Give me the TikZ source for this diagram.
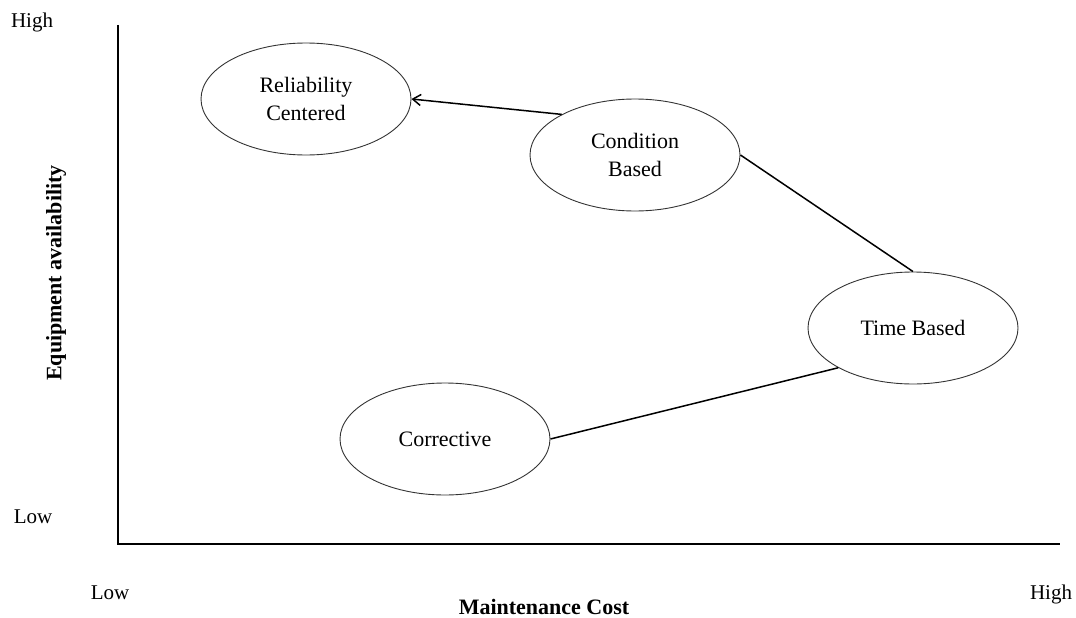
\documentclass[tikz,border=0pt]{standalone}
\usepackage{fontspec}
\setmainfont{Liberation Serif}
\usetikzlibrary{shapes.geometric,arrows.meta}
\begin{document}
\begin{tikzpicture}[x=1pt,y=-1pt,
  method/.style={ellipse,draw=black!80,line width=0.9pt,minimum width=210pt,
    minimum height=112pt,inner sep=0pt,align=center,
    font=\fontsize{22}{28}\selectfont},
  axisline/.style={line width=2pt},
  link/.style={line width=1.5pt},
  level/.style={font=\fontsize{21}{24}\selectfont},
  axtitle/.style={font=\fontsize{22}{26}\selectfont\bfseries}]
\useasboundingbox (0,0) rectangle (1076,618);

% axes
\coordinate (ytop) at (118,25);
\coordinate (origin) at (118,544);
\coordinate (xend) at (1060,544);
\draw[axisline] (ytop) -- (origin) -- (xend);

% axis levels and titles
\node[level] (yhigh) at (32,22) {High};
\node[level] (ylow) at (33,517) {Low};
\node[level] (xlow) at (110,593) {Low};
\node[level] (xhigh) at (1051,594) {High};
\node[axtitle,anchor=base,inner sep=1pt] (xtitle) at (544,614) {Maintenance Cost};
\node[axtitle,rotate=90] (ytitle) at (56,273) {Equipment availability};

% maintenance strategies
\node[method] (rc) at (306,99) {Reliability\\Centered};
\node[method] (cb) at (635,155) {Condition\\Based};
\node[method] (tb) at (913,328) {Time Based};
\node[method] (cr) at (445,439) {Corrective};

% progression
\draw[link] (cr.east) -- (tb.208);
\draw[link] (tb.north) -- (cb.east);
\draw[link,-{Straight Barb[length=8pt,width=11pt]}] (cb.151) -- (rc.east);
\end{tikzpicture}
\end{document}
